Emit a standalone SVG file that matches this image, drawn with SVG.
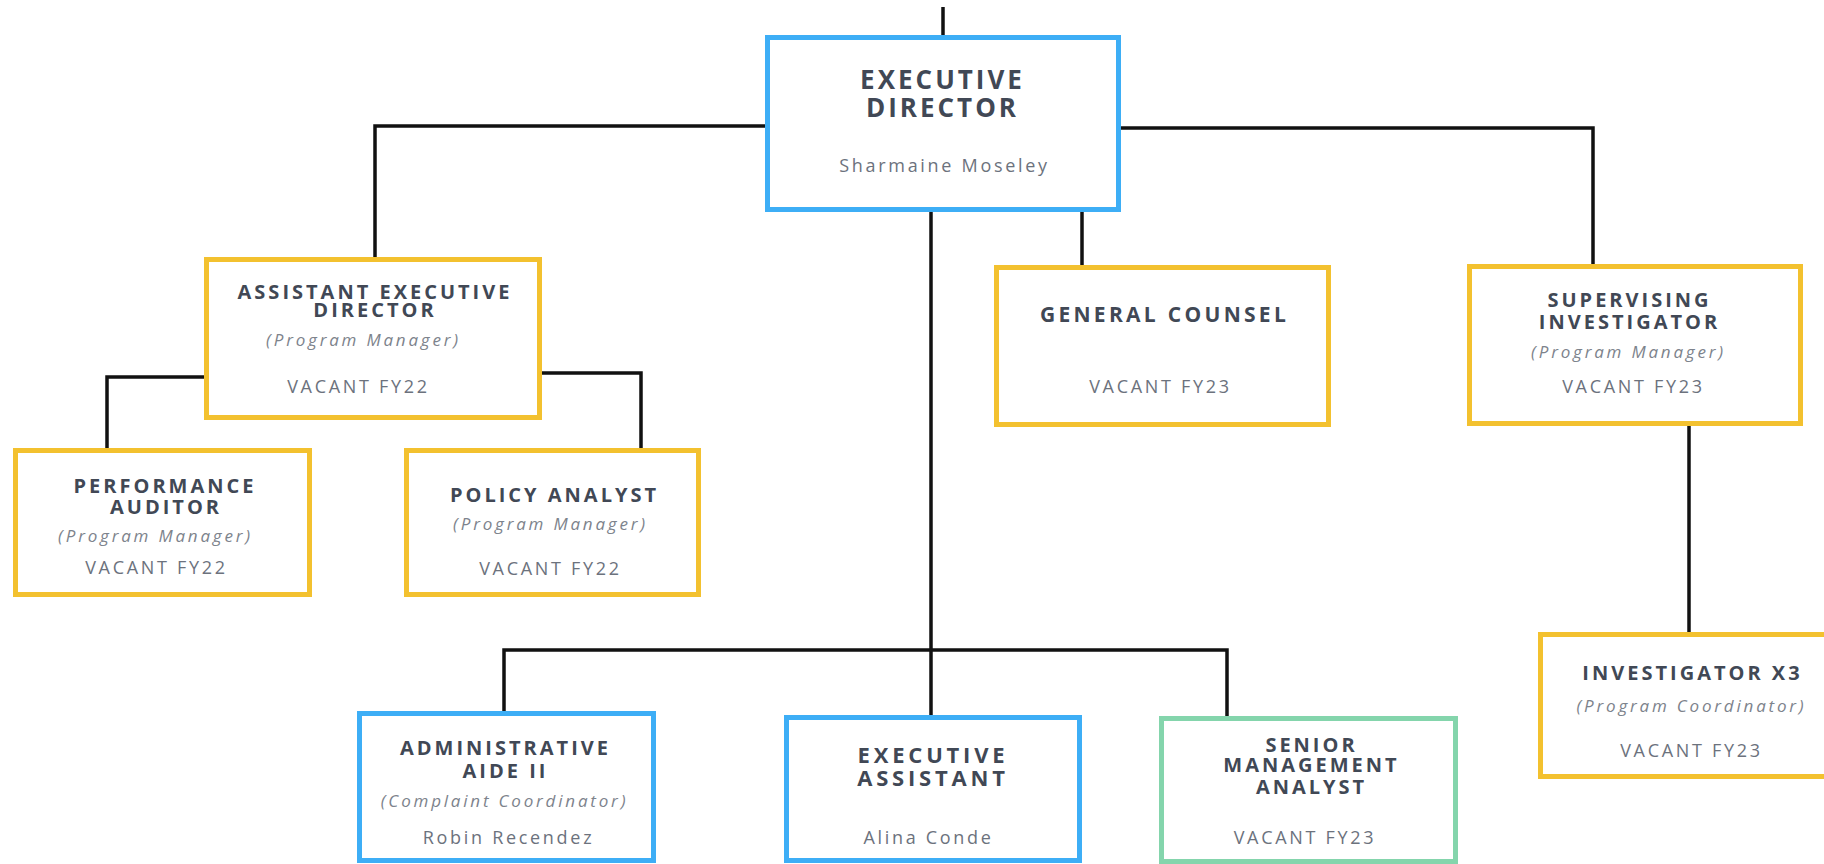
<svg xmlns="http://www.w3.org/2000/svg" width="1824" height="864" viewBox="0 0 1824 864">
  <style>
    .box { fill: #ffffff; stroke-width: 5; }
    .blue { stroke: #3daef6; }
    .gold { stroke: #f3c12f; }
    .green { stroke: #84d5ac; }
    .link { fill: none; stroke: #111111; stroke-width: 3.5; }
    text { font-family: "Open Sans", "Liberation Sans", sans-serif; text-anchor: middle; }
    .t { font-weight: 700; font-size: 20px; letter-spacing: 3px; fill: #414855; }
    .tl { font-size: 26px; }
    .tm { font-size: 22px; letter-spacing: 3.8px; }
    .tg { font-size: 21px; letter-spacing: 3.3px; }
    .s { font-size: 18px; letter-spacing: 2.7px; fill: #6c727d; }
    .i { font-size: 17px; font-style: italic; letter-spacing: 2.8px; fill: #7d838c; }
  </style>

  <!-- reporting lines -->
  <g id="connectors">
    <path class="link" d="M943 7 V36"/>
    <path class="link" d="M766 126 H375 V258"/>
    <path class="link" d="M1120 128 H1593 V265"/>
    <path class="link" d="M1082 211 V266"/>
    <path class="link" d="M931 211 V716"/>
    <path class="link" d="M504 712 V650 H1227 V717"/>
    <path class="link" d="M205 377 H107 V449"/>
    <path class="link" d="M541 373 H641 V449"/>
    <path class="link" d="M1689 425 V633"/>
  </g>

  <g id="executive-director">
    <rect class="box blue" x="767.5" y="37.5" width="351" height="172"/>
    <text class="t tl" x="942.5" y="89">EXECUTIVE</text>
    <text class="t tl" x="942.5" y="117">DIRECTOR</text>
    <text class="s" x="944.5" y="172">Sharmaine Moseley</text>
  </g>

  <g id="assistant-executive-director">
    <rect class="box gold" x="206.5" y="259.5" width="333" height="158"/>
    <text class="t" x="375" y="299">ASSISTANT EXECUTIVE</text>
    <text class="t" x="375" y="317">DIRECTOR</text>
    <text class="i" x="363.5" y="346">(Program Manager)</text>
    <text class="s" x="358.5" y="393">VACANT FY22</text>
  </g>

  <g id="performance-auditor">
    <rect class="box gold" x="15.5" y="450.5" width="294" height="144"/>
    <text class="t" x="165" y="493">PERFORMANCE</text>
    <text class="t" x="166" y="514">AUDITOR</text>
    <text class="i" x="155.5" y="542">(Program Manager)</text>
    <text class="s" x="156.5" y="574">VACANT FY22</text>
  </g>

  <g id="policy-analyst">
    <rect class="box gold" x="406.5" y="450.5" width="292" height="144"/>
    <text class="t" x="554.5" y="502">POLICY ANALYST</text>
    <text class="i" x="550.5" y="530">(Program Manager)</text>
    <text class="s" x="550.5" y="575">VACANT FY22</text>
  </g>

  <g id="general-counsel">
    <rect class="box gold" x="996.5" y="267.5" width="332" height="157"/>
    <text class="t tg" x="1164.5" y="322">GENERAL COUNSEL</text>
    <text class="s" x="1160.5" y="393">VACANT FY23</text>
  </g>

  <g id="supervising-investigator">
    <rect class="box gold" x="1469.5" y="266.5" width="331" height="157"/>
    <text class="t" x="1629.5" y="307">SUPERVISING</text>
    <text class="t" x="1629.5" y="329">INVESTIGATOR</text>
    <text class="i" x="1628.5" y="358">(Program Manager)</text>
    <text class="s" x="1633.5" y="393">VACANT FY23</text>
  </g>

  <g id="investigator-x3">
    <rect class="box gold" x="1540.5" y="634.5" width="302" height="142"/>
    <text class="t" x="1692.5" y="680">INVESTIGATOR X3</text>
    <text class="i" x="1691.5" y="712">(Program Coordinator)</text>
    <text class="s" x="1691.5" y="757">VACANT FY23</text>
  </g>

  <g id="administrative-aide">
    <rect class="box blue" x="359.5" y="713.5" width="294" height="147"/>
    <text class="t" x="505.5" y="755">ADMINISTRATIVE</text>
    <text class="t" x="505.5" y="778">AIDE II</text>
    <text class="i" x="504.5" y="807">(Complaint Coordinator)</text>
    <text class="s" x="508.5" y="844">Robin Recendez</text>
  </g>

  <g id="executive-assistant">
    <rect class="box blue" x="786.5" y="717.5" width="293" height="143"/>
    <text class="t tm" x="933" y="763">EXECUTIVE</text>
    <text class="t tm" x="933" y="786">ASSISTANT</text>
    <text class="s" x="928.5" y="844">Alina Conde</text>
  </g>

  <g id="senior-management-analyst">
    <rect class="box green" x="1161.5" y="718.5" width="294" height="143"/>
    <text class="t" x="1311.5" y="752">SENIOR</text>
    <text class="t" x="1311.5" y="772">MANAGEMENT</text>
    <text class="t" x="1311.5" y="794">ANALYST</text>
    <text class="s" x="1305" y="844">VACANT FY23</text>
  </g>
</svg>
